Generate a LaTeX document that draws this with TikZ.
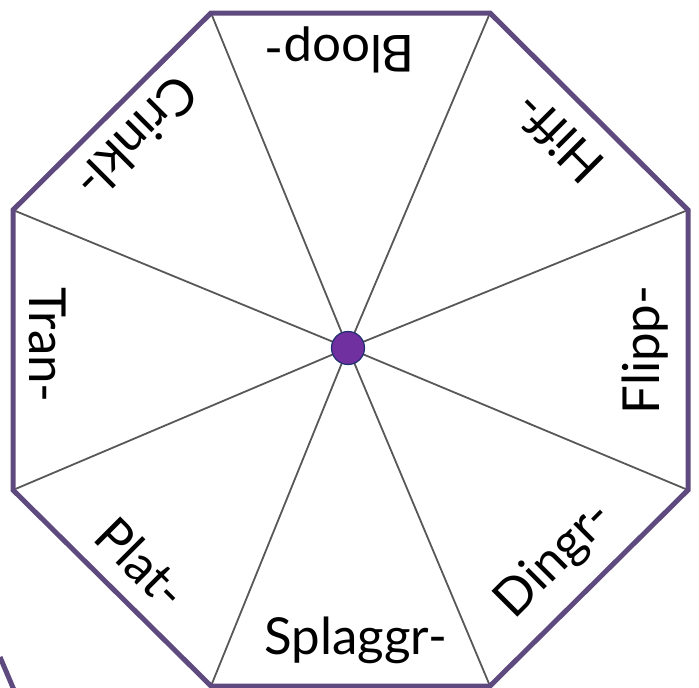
\documentclass[tikz,border=0pt]{standalone}
\usepackage{fontspec}
\setmainfont{Lato}
\definecolor{octa}{HTML}{5E4A7E}
\definecolor{spoke}{HTML}{585858}
\definecolor{dotfill}{HTML}{7030A0}
\definecolor{dotline}{HTML}{1F2F6F}
\tikzset{
  spokeline/.style={draw=spoke, line width=1.8pt},
  rim/.style={draw=octa, line width=5pt, line join=miter},
  lbl/.style={font=\fontsize{51}{51}\selectfont, inner sep=0pt, text=black},
}
\begin{document}
\begin{tikzpicture}[x=1pt,y=-1pt]
\useasboundingbox (0,0) rectangle (699,688);
\coordinate (v1) at (211,13);
\coordinate (v2) at (490,13);
\coordinate (v3) at (688,210);
\coordinate (v4) at (688,490);
\coordinate (v5) at (490,686);
\coordinate (v6) at (211,686);
\coordinate (v7) at (13,490);
\coordinate (v8) at (13,210);
\coordinate (c) at (348,348);
\foreach \i in {1,...,8} \draw[spokeline] (c) -- (v\i);
\draw[rim] (v1) -- (v2) -- (v3) -- (v4) -- (v5) -- (v6) -- (v7) -- (v8) -- cycle;
\coordinate (s1) at (0,657);
\coordinate (s2) at (14,690);
\draw[draw=octa, line width=5pt] (s1) -- (s2);
\node[circle, fill=dotfill, draw=dotline, line width=1.2pt, minimum size=33pt, inner sep=0pt] (dot) at (c) {};
\node[lbl] (splaggr) at (356,640) {Splaggr-};
\node[lbl, rotate=45] (dingr) at (555,560) {Dingr-};
\node[lbl, rotate=90] (flipp) at (645,350) {Flipp-};
\node[lbl, rotate=135] (hiff) at (558,138) {Hiff-};
\node[lbl, rotate=180] (bloop) at (340,50) {Bloop-};
\node[lbl, rotate=225] (crinkl) at (137,138) {Crinkl-};
\node[lbl, rotate=270] (tran) at (48,345) {Tran-};
\node[lbl, rotate=315] (plat) at (142,563) {Plat-};
\end{tikzpicture}
\end{document}
